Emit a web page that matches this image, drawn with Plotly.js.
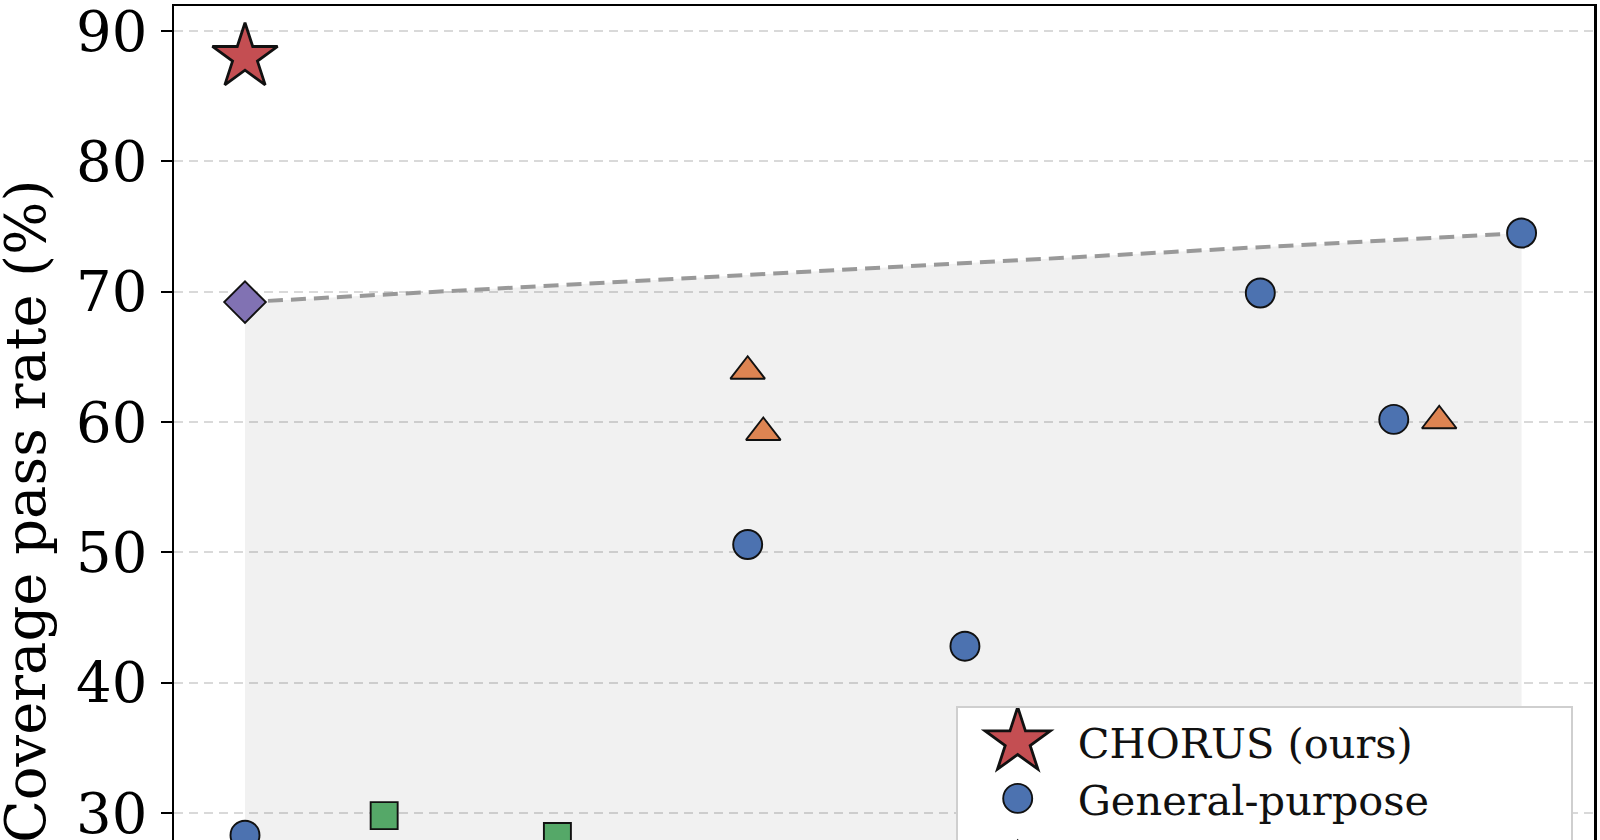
<!DOCTYPE html>
<html>
<head>
<meta charset="utf-8">
<script src="https://cdn.plot.ly/plotly-3.0.1.min.js"></script>
<style>html,body{margin:0;padding:0;background:#fff;overflow:hidden}</style>
</head>
<body>
<div id="chart" style="width:1600px;height:840px"></div>
<script>
// ---- data (x in arbitrary units; the x axis lies outside the visible crop) ----
const seriesNames = ['CHORUS (ours)', 'General-purpose', 'Code-specialized LLMs', 'Test-generation tools', 'Best prior baseline'];
const oursX = [5.0];
const oursY = [88.0];
const generalX = [5.0, 40.4, 55.7, 76.5, 85.9, 94.9];
const generalY = [28.3, 50.6, 42.8, 69.9, 60.2, 74.5];
const codeX = [40.4, 41.5, 89.1];
const codeY = [63.9, 59.2, 60.1];
const testX = [14.8, 27.0];
const testY = [29.8, 28.2];
const priorX = [5.0];
const priorY = [69.2];
// frontier of prior methods: best prior baseline -> best general-purpose model
const frontierX = [priorX[0], generalX[5]];
const frontierY = [priorY[0], generalY[5]];
const yTicks = [30, 40, 50, 60, 70, 80, 90];

// ---- styles ----
const SERIF = 'DejaVu Serif, serif';
const colors = ['#c44e52', '#4c72b0', '#dd8452', '#55a868', '#8172b3'];
const symbols = ['star', 'circle', 'triangle-up', 'square', 'diamond'];
const sizes = [49, 29, 30, 27, 32];
const edgeW = [2.8, 1.9, 1.9, 1.9, 1.9];

function mk(i, x, y) {
  return {
    type: 'scatter', mode: 'markers', name: seriesNames[i], x: x, y: y,
    marker: { symbol: symbols[i], size: sizes[i], color: colors[i], line: { color: '#111', width: edgeW[i] } },
    hoverinfo: 'x+y+name'
  };
}

const traces = [
  {
    type: 'scatter', mode: 'lines', x: frontierX, y: frontierY, showlegend: false,
    line: { color: '#999999', width: 4, dash: '15px,8px' },
    fill: 'tozeroy', fillcolor: 'rgba(0,0,0,0.055)', hoverinfo: 'skip'
  },
  mk(0, oursX, oursY),
  mk(1, generalX, generalY),
  mk(2, codeX, codeY),
  mk(3, testX, testY),
  mk(4, priorX, priorY)
];

const layout = {
  width: 1600, height: 840,
  margin: { l: 174, r: 6, t: 6, b: 0, autoexpand: false },
  paper_bgcolor: '#ffffff', plot_bgcolor: '#ffffff',
  font: { family: SERIF, color: '#000' },
  showlegend: true,
  xaxis: {
    range: [0, 100], side: 'top', showline: true, linecolor: '#000', linewidth: 2.5,
    ticks: '', showticklabels: false, showgrid: false, zeroline: false
  },
  yaxis: {
    range: [27.93, 91.92], tickvals: yTicks, ticktext: yTicks.map(String),
    ticks: 'outside', ticklen: 11, tickwidth: 2, tickcolor: '#000',
    showline: true, mirror: true, linecolor: '#000', linewidth: 2.5,
    showgrid: true, gridcolor: '#d9d9d9', gridwidth: 2, griddash: '9px,6px',
    zeroline: false, ticklabelstandoff: 2, ticklabeloverflow: 'allow',
    tickfont: { family: SERIF, size: 56, color: '#000' }
  },
  legend: {
    x: 0.985, xanchor: 'right', y: 0.1607, yanchor: 'top',
    bgcolor: '#ffffff', bordercolor: '#cfcfcf', borderwidth: 2,
    font: { family: SERIF, size: 41.5, color: '#111' }, itemwidth: 110
  },
  annotations: [{
    text: 'Coverage pass rate (%)', textangle: -90, showarrow: false,
    xref: 'paper', yref: 'paper', x: -0.1042, y: 0.3933, xanchor: 'center', yanchor: 'middle',
    font: { family: SERIF, size: 56, color: '#000' }
  }]
};

Plotly.newPlot('chart', traces, layout, { displayModeBar: false, staticPlot: true }).then(function (gd) {
  const items = gd.querySelectorAll('.legend .traces');
  items.forEach(function (g, i) {
    const p = g.querySelector('.legendpoints path.scatterpts');
    if (!p || i >= sizes.length) return;
    const k = sizes[i] / 16;
    const t = p.getAttribute('transform');
    p.setAttribute('transform', (t ? t + ' ' : '') + 'scale(' + k + ')');
    p.style.strokeWidth = (edgeW[i] / k) + 'px';
  });
});
</script>
</body>
</html>
